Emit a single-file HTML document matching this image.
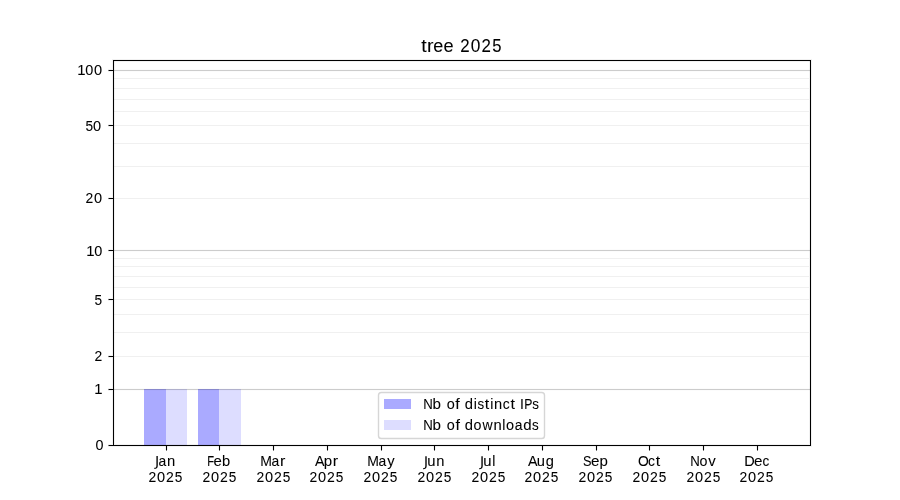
<!DOCTYPE html><html><head><meta charset="utf-8"><style>html,body{margin:0;padding:0;background:#fff;width:900px;height:500px;overflow:hidden}svg{display:block;will-change:transform}text{font-family:"Liberation Sans",sans-serif;fill:#000;stroke:#000;stroke-width:0.06px}</style></head><body>
<svg width="900" height="500" viewBox="0 0 900 500">
<rect x="0" y="0" width="900" height="500" fill="#fff"/>
<g shape-rendering="crispEdges">
<rect x="144" y="389" width="22" height="56" fill="#aaaaff"/>
<rect x="166" y="389" width="21" height="56" fill="#ddddff"/>
<rect x="198" y="389" width="21" height="56" fill="#aaaaff"/>
<rect x="219" y="389" width="22" height="56" fill="#ddddff"/>
<rect x="114" y="78" width="695" height="1" fill="#000" fill-opacity="0.058"/>
<rect x="114" y="88" width="695" height="1" fill="#000" fill-opacity="0.058"/>
<rect x="114" y="99" width="695" height="1" fill="#000" fill-opacity="0.058"/>
<rect x="114" y="111" width="695" height="1" fill="#000" fill-opacity="0.058"/>
<rect x="114" y="125" width="695" height="1" fill="#000" fill-opacity="0.058"/>
<rect x="114" y="143" width="695" height="1" fill="#000" fill-opacity="0.058"/>
<rect x="114" y="166" width="695" height="1" fill="#000" fill-opacity="0.058"/>
<rect x="114" y="198" width="695" height="1" fill="#000" fill-opacity="0.058"/>
<rect x="114" y="258" width="695" height="1" fill="#000" fill-opacity="0.058"/>
<rect x="114" y="266" width="695" height="1" fill="#000" fill-opacity="0.058"/>
<rect x="114" y="276" width="695" height="1" fill="#000" fill-opacity="0.058"/>
<rect x="114" y="287" width="695" height="1" fill="#000" fill-opacity="0.058"/>
<rect x="114" y="299" width="695" height="1" fill="#000" fill-opacity="0.058"/>
<rect x="114" y="314" width="695" height="1" fill="#000" fill-opacity="0.058"/>
<rect x="114" y="332" width="695" height="1" fill="#000" fill-opacity="0.058"/>
<rect x="114" y="356" width="695" height="1" fill="#000" fill-opacity="0.058"/>
<rect x="113" y="70" width="697" height="1" fill="#000" fill-opacity="0.2"/>
<rect x="113" y="69" width="697" height="1" fill="#000" fill-opacity="0.012"/>
<rect x="113" y="71" width="697" height="1" fill="#000" fill-opacity="0.012"/>
<rect x="113" y="250" width="697" height="1" fill="#000" fill-opacity="0.2"/>
<rect x="113" y="249" width="697" height="1" fill="#000" fill-opacity="0.012"/>
<rect x="113" y="251" width="697" height="1" fill="#000" fill-opacity="0.012"/>
<rect x="113" y="389" width="697" height="1" fill="#000" fill-opacity="0.2"/>
<rect x="113" y="388" width="697" height="1" fill="#000" fill-opacity="0.012"/>
<rect x="113" y="390" width="697" height="1" fill="#000" fill-opacity="0.012"/>
<rect x="112" y="59" width="700" height="1" fill="#000" fill-opacity="0.055"/>
<rect x="112" y="446" width="700" height="1" fill="#000" fill-opacity="0.055"/>
<rect x="112" y="60" width="1" height="386" fill="#000" fill-opacity="0.055"/>
<rect x="811" y="60" width="1" height="386" fill="#000" fill-opacity="0.055"/>
<rect x="114" y="61" width="696" height="1" fill="#000" fill-opacity="0.055"/>
<rect x="114" y="444" width="696" height="1" fill="#000" fill-opacity="0.055"/>
<rect x="114" y="61" width="1" height="383" fill="#000" fill-opacity="0.055"/>
<rect x="809" y="61" width="1" height="383" fill="#000" fill-opacity="0.055"/>
<rect x="113" y="60" width="698" height="1" fill="#000"/>
<rect x="113" y="445" width="698" height="1" fill="#000"/>
<rect x="113" y="60" width="1" height="386" fill="#000"/>
<rect x="810" y="60" width="1" height="386" fill="#000"/>
<rect x="109" y="445" width="4" height="1" fill="#000"/>
<rect x="108" y="445" width="1" height="1" fill="#000" fill-opacity="0.5"/>
<rect x="108" y="444" width="4" height="1" fill="#000" fill-opacity="0.055"/>
<rect x="108" y="446" width="4" height="1" fill="#000" fill-opacity="0.055"/>
<rect x="109" y="389" width="4" height="1" fill="#000"/>
<rect x="108" y="389" width="1" height="1" fill="#000" fill-opacity="0.5"/>
<rect x="108" y="388" width="4" height="1" fill="#000" fill-opacity="0.055"/>
<rect x="108" y="390" width="4" height="1" fill="#000" fill-opacity="0.055"/>
<rect x="109" y="356" width="4" height="1" fill="#000"/>
<rect x="108" y="356" width="1" height="1" fill="#000" fill-opacity="0.5"/>
<rect x="108" y="355" width="4" height="1" fill="#000" fill-opacity="0.055"/>
<rect x="108" y="357" width="4" height="1" fill="#000" fill-opacity="0.055"/>
<rect x="109" y="299" width="4" height="1" fill="#000"/>
<rect x="108" y="299" width="1" height="1" fill="#000" fill-opacity="0.5"/>
<rect x="108" y="298" width="4" height="1" fill="#000" fill-opacity="0.055"/>
<rect x="108" y="300" width="4" height="1" fill="#000" fill-opacity="0.055"/>
<rect x="109" y="250" width="4" height="1" fill="#000"/>
<rect x="108" y="250" width="1" height="1" fill="#000" fill-opacity="0.5"/>
<rect x="108" y="249" width="4" height="1" fill="#000" fill-opacity="0.055"/>
<rect x="108" y="251" width="4" height="1" fill="#000" fill-opacity="0.055"/>
<rect x="109" y="198" width="4" height="1" fill="#000"/>
<rect x="108" y="198" width="1" height="1" fill="#000" fill-opacity="0.5"/>
<rect x="108" y="197" width="4" height="1" fill="#000" fill-opacity="0.055"/>
<rect x="108" y="199" width="4" height="1" fill="#000" fill-opacity="0.055"/>
<rect x="109" y="125" width="4" height="1" fill="#000"/>
<rect x="108" y="125" width="1" height="1" fill="#000" fill-opacity="0.5"/>
<rect x="108" y="124" width="4" height="1" fill="#000" fill-opacity="0.055"/>
<rect x="108" y="126" width="4" height="1" fill="#000" fill-opacity="0.055"/>
<rect x="109" y="70" width="4" height="1" fill="#000"/>
<rect x="108" y="70" width="1" height="1" fill="#000" fill-opacity="0.5"/>
<rect x="108" y="69" width="4" height="1" fill="#000" fill-opacity="0.055"/>
<rect x="108" y="71" width="4" height="1" fill="#000" fill-opacity="0.055"/>
<rect x="166" y="446" width="1" height="4" fill="#000"/>
<rect x="166" y="450" width="1" height="1" fill="#000" fill-opacity="0.5"/>
<rect x="165" y="446" width="1" height="4" fill="#000" fill-opacity="0.055"/>
<rect x="167" y="446" width="1" height="4" fill="#000" fill-opacity="0.055"/>
<rect x="219" y="446" width="1" height="4" fill="#000"/>
<rect x="219" y="450" width="1" height="1" fill="#000" fill-opacity="0.5"/>
<rect x="218" y="446" width="1" height="4" fill="#000" fill-opacity="0.055"/>
<rect x="220" y="446" width="1" height="4" fill="#000" fill-opacity="0.055"/>
<rect x="273" y="446" width="1" height="4" fill="#000"/>
<rect x="273" y="450" width="1" height="1" fill="#000" fill-opacity="0.5"/>
<rect x="272" y="446" width="1" height="4" fill="#000" fill-opacity="0.055"/>
<rect x="274" y="446" width="1" height="4" fill="#000" fill-opacity="0.055"/>
<rect x="327" y="446" width="1" height="4" fill="#000"/>
<rect x="327" y="450" width="1" height="1" fill="#000" fill-opacity="0.5"/>
<rect x="326" y="446" width="1" height="4" fill="#000" fill-opacity="0.055"/>
<rect x="328" y="446" width="1" height="4" fill="#000" fill-opacity="0.055"/>
<rect x="381" y="446" width="1" height="4" fill="#000"/>
<rect x="381" y="450" width="1" height="1" fill="#000" fill-opacity="0.5"/>
<rect x="380" y="446" width="1" height="4" fill="#000" fill-opacity="0.055"/>
<rect x="382" y="446" width="1" height="4" fill="#000" fill-opacity="0.055"/>
<rect x="434" y="446" width="1" height="4" fill="#000"/>
<rect x="434" y="450" width="1" height="1" fill="#000" fill-opacity="0.5"/>
<rect x="433" y="446" width="1" height="4" fill="#000" fill-opacity="0.055"/>
<rect x="435" y="446" width="1" height="4" fill="#000" fill-opacity="0.055"/>
<rect x="488" y="446" width="1" height="4" fill="#000"/>
<rect x="488" y="450" width="1" height="1" fill="#000" fill-opacity="0.5"/>
<rect x="487" y="446" width="1" height="4" fill="#000" fill-opacity="0.055"/>
<rect x="489" y="446" width="1" height="4" fill="#000" fill-opacity="0.055"/>
<rect x="542" y="446" width="1" height="4" fill="#000"/>
<rect x="542" y="450" width="1" height="1" fill="#000" fill-opacity="0.5"/>
<rect x="541" y="446" width="1" height="4" fill="#000" fill-opacity="0.055"/>
<rect x="543" y="446" width="1" height="4" fill="#000" fill-opacity="0.055"/>
<rect x="596" y="446" width="1" height="4" fill="#000"/>
<rect x="596" y="450" width="1" height="1" fill="#000" fill-opacity="0.5"/>
<rect x="595" y="446" width="1" height="4" fill="#000" fill-opacity="0.055"/>
<rect x="597" y="446" width="1" height="4" fill="#000" fill-opacity="0.055"/>
<rect x="649" y="446" width="1" height="4" fill="#000"/>
<rect x="649" y="450" width="1" height="1" fill="#000" fill-opacity="0.5"/>
<rect x="648" y="446" width="1" height="4" fill="#000" fill-opacity="0.055"/>
<rect x="650" y="446" width="1" height="4" fill="#000" fill-opacity="0.055"/>
<rect x="703" y="446" width="1" height="4" fill="#000"/>
<rect x="703" y="450" width="1" height="1" fill="#000" fill-opacity="0.5"/>
<rect x="702" y="446" width="1" height="4" fill="#000" fill-opacity="0.055"/>
<rect x="704" y="446" width="1" height="4" fill="#000" fill-opacity="0.055"/>
<rect x="757" y="446" width="1" height="4" fill="#000"/>
<rect x="757" y="450" width="1" height="1" fill="#000" fill-opacity="0.5"/>
<rect x="756" y="446" width="1" height="4" fill="#000" fill-opacity="0.055"/>
<rect x="758" y="446" width="1" height="4" fill="#000" fill-opacity="0.055"/>
</g>
<rect x="378.5" y="392.5" width="166" height="46" rx="2.8" ry="2.8" fill="#fff" stroke="#d6d6d6" stroke-width="1.4"/>
<g shape-rendering="crispEdges">
<rect x="384" y="399" width="27" height="10" fill="#aaaaff"/>
<rect x="384" y="420" width="27" height="10" fill="#ddddff"/>
</g>
<text transform="translate(421.323,51.500) scale(1.1500,1.0800)" font-size="17">t</text>
<text transform="translate(426.930,51.500) scale(1.1500,1.0800)" font-size="17">r</text>
<text transform="translate(433.232,51.500) scale(1.0603,1.0800)" font-size="17">e</text>
<text transform="translate(443.448,51.500) scale(1.0684,1.0800)" font-size="17">e</text>
<text transform="translate(460.297,51.500) scale(0.9911,1.0800)" font-size="17">2</text>
<text transform="translate(470.865,51.500) scale(1.0165,1.0800)" font-size="17">0</text>
<text transform="translate(481.408,51.500) scale(0.9936,1.0800)" font-size="17">2</text>
<text transform="translate(492.255,51.500) scale(0.9787,1.0800)" font-size="17">5</text>
<text transform="translate(95.390,449.500) scale(1.0262,1.0000)" font-size="14">0</text>
<text transform="translate(94.309,393.500) scale(1.0631,1.0000)" font-size="14">1</text>
<text transform="translate(94.460,360.500) scale(0.9925,1.0000)" font-size="14">2</text>
<text transform="translate(94.554,304.500) scale(0.9763,1.0000)" font-size="14">5</text>
<text transform="translate(86.309,255.500) scale(1.0631,1.0000)" font-size="14">1</text>
<text transform="translate(94.234,255.500) scale(1.0333,1.0000)" font-size="14">0</text>
<text transform="translate(85.461,202.500) scale(0.9925,1.0000)" font-size="14">2</text>
<text transform="translate(94.079,202.500) scale(1.0399,1.0000)" font-size="14">0</text>
<text transform="translate(85.554,130.500) scale(0.9763,1.0000)" font-size="14">5</text>
<text transform="translate(93.078,130.500) scale(1.0399,1.0000)" font-size="14">0</text>
<text transform="translate(77.307,74.500) scale(1.0631,1.0000)" font-size="14">1</text>
<text transform="translate(85.232,74.500) scale(1.0333,1.0000)" font-size="14">0</text>
<text transform="translate(93.947,74.500) scale(1.0413,1.0000)" font-size="14">0</text>
<path fill="#000" d="M156.417 456.045L157.787 456.045L157.787 465.466Q157.787 467.297 157.092 468.124Q156.397 468.952 154.857 468.952L154.335 468.952L154.335 467.799L154.762 467.799Q155.671 467.799 156.044 467.290Q156.417 466.781 156.417 465.466Z"/>
<text transform="translate(158.427,465.500) scale(0.9952,1.0000)" font-size="14">a</text>
<text transform="translate(166.935,465.500) scale(1.0583,1.0000)" font-size="14">n</text>
<text transform="translate(148.460,481.500) scale(0.9925,1.0000)" font-size="14">2</text>
<text transform="translate(157.078,481.500) scale(1.0399,1.0000)" font-size="14">0</text>
<text transform="translate(165.916,481.500) scale(1.0015,1.0000)" font-size="14">2</text>
<text transform="translate(174.802,481.500) scale(0.9748,1.0000)" font-size="14">5</text>
<text transform="translate(207.239,465.500) scale(0.8000,1.0000)" font-size="14">F</text>
<text transform="translate(213.539,465.500) scale(1.0681,1.0000)" font-size="14">e</text>
<text transform="translate(222.115,465.500) scale(1.0499,1.0000)" font-size="14">b</text>
<text transform="translate(202.460,481.500) scale(0.9925,1.0000)" font-size="14">2</text>
<text transform="translate(211.078,481.500) scale(1.0399,1.0000)" font-size="14">0</text>
<text transform="translate(219.916,481.500) scale(1.0015,1.0000)" font-size="14">2</text>
<text transform="translate(228.802,481.500) scale(0.9748,1.0000)" font-size="14">5</text>
<text transform="translate(260.159,465.500) scale(1.0007,1.0000)" font-size="14">M</text>
<text transform="translate(271.426,465.500) scale(0.9952,1.0000)" font-size="14">a</text>
<text transform="translate(279.988,465.500) scale(1.1500,1.0000)" font-size="14">r</text>
<text transform="translate(256.460,481.500) scale(0.9925,1.0000)" font-size="14">2</text>
<text transform="translate(265.078,481.500) scale(1.0399,1.0000)" font-size="14">0</text>
<text transform="translate(273.916,481.500) scale(1.0015,1.0000)" font-size="14">2</text>
<text transform="translate(282.802,481.500) scale(0.9748,1.0000)" font-size="14">5</text>
<text transform="translate(314.971,465.500) scale(1.0186,1.0000)" font-size="14">A</text>
<text transform="translate(323.751,465.500) scale(1.0749,1.0000)" font-size="14">p</text>
<text transform="translate(332.669,465.500) scale(1.1500,1.0000)" font-size="14">r</text>
<text transform="translate(309.460,481.500) scale(0.9925,1.0000)" font-size="14">2</text>
<text transform="translate(318.078,481.500) scale(1.0399,1.0000)" font-size="14">0</text>
<text transform="translate(326.916,481.500) scale(1.0015,1.0000)" font-size="14">2</text>
<text transform="translate(335.802,481.500) scale(0.9748,1.0000)" font-size="14">5</text>
<text transform="translate(367.158,465.500) scale(1.0007,1.0000)" font-size="14">M</text>
<text transform="translate(378.425,465.500) scale(0.9952,1.0000)" font-size="14">a</text>
<text transform="translate(387.134,465.500) scale(1.0509,1.0000)" font-size="14">y</text>
<text transform="translate(363.460,481.500) scale(0.9925,1.0000)" font-size="14">2</text>
<text transform="translate(372.078,481.500) scale(1.0399,1.0000)" font-size="14">0</text>
<text transform="translate(380.916,481.500) scale(1.0015,1.0000)" font-size="14">2</text>
<text transform="translate(389.802,481.500) scale(0.9748,1.0000)" font-size="14">5</text>
<path fill="#000" d="M425.314 456.240L426.684 456.240L426.684 465.661Q426.684 467.492 425.989 468.319Q425.294 469.147 423.754 469.147L423.232 469.147L423.232 467.994L423.659 467.994Q424.568 467.994 424.941 467.485Q425.314 466.976 425.314 465.661Z"/>
<text transform="translate(427.290,465.500) scale(1.0599,1.0000)" font-size="14">u</text>
<text transform="translate(436.136,465.500) scale(1.0478,1.0000)" font-size="14">n</text>
<text transform="translate(417.460,481.500) scale(0.9925,1.0000)" font-size="14">2</text>
<text transform="translate(426.078,481.500) scale(1.0399,1.0000)" font-size="14">0</text>
<text transform="translate(434.916,481.500) scale(1.0015,1.0000)" font-size="14">2</text>
<text transform="translate(443.802,481.500) scale(0.9748,1.0000)" font-size="14">5</text>
<path fill="#000" d="M481.378 456.289L482.748 456.289L482.748 465.710Q482.748 467.541 482.053 468.368Q481.358 469.196 479.818 469.196L479.296 469.196L479.296 468.043L479.723 468.043Q480.632 468.043 481.005 467.534Q481.378 467.025 481.378 465.710Z"/>
<text transform="translate(483.290,465.500) scale(1.0599,1.0000)" font-size="14">u</text>
<text transform="translate(492.184,465.500) scale(1.0000,1.0000)" font-size="14">l</text>
<text transform="translate(471.460,481.500) scale(0.9925,1.0000)" font-size="14">2</text>
<text transform="translate(480.078,481.500) scale(1.0399,1.0000)" font-size="14">0</text>
<text transform="translate(488.916,481.500) scale(1.0015,1.0000)" font-size="14">2</text>
<text transform="translate(497.802,481.500) scale(0.9748,1.0000)" font-size="14">5</text>
<text transform="translate(527.979,465.500) scale(1.0186,1.0000)" font-size="14">A</text>
<text transform="translate(536.739,465.500) scale(1.0504,1.0000)" font-size="14">u</text>
<text transform="translate(545.634,465.500) scale(1.0485,1.0000)" font-size="14">g</text>
<text transform="translate(524.460,481.500) scale(0.9925,1.0000)" font-size="14">2</text>
<text transform="translate(533.078,481.500) scale(1.0399,1.0000)" font-size="14">0</text>
<text transform="translate(541.916,481.500) scale(1.0015,1.0000)" font-size="14">2</text>
<text transform="translate(550.802,481.500) scale(0.9748,1.0000)" font-size="14">5</text>
<text transform="translate(582.995,465.500) scale(0.9050,1.0000)" font-size="14">S</text>
<text transform="translate(590.996,465.500) scale(1.0839,1.0000)" font-size="14">e</text>
<text transform="translate(599.508,465.500) scale(1.0738,1.0000)" font-size="14">p</text>
<text transform="translate(578.460,481.500) scale(0.9925,1.0000)" font-size="14">2</text>
<text transform="translate(587.078,481.500) scale(1.0399,1.0000)" font-size="14">0</text>
<text transform="translate(595.916,481.500) scale(1.0015,1.0000)" font-size="14">2</text>
<text transform="translate(604.802,481.500) scale(0.9748,1.0000)" font-size="14">5</text>
<text transform="translate(638.061,465.500) scale(0.9890,1.0000)" font-size="14">O</text>
<text transform="translate(648.043,465.500) scale(0.9927,1.0000)" font-size="14">c</text>
<text transform="translate(655.804,465.500) scale(1.1500,1.0000)" font-size="14">t</text>
<text transform="translate(632.460,481.500) scale(0.9925,1.0000)" font-size="14">2</text>
<text transform="translate(641.078,481.500) scale(1.0399,1.0000)" font-size="14">0</text>
<text transform="translate(649.916,481.500) scale(1.0015,1.0000)" font-size="14">2</text>
<text transform="translate(658.802,481.500) scale(0.9748,1.0000)" font-size="14">5</text>
<text transform="translate(690.327,465.500) scale(0.9456,1.0000)" font-size="14">N</text>
<text transform="translate(699.616,465.500) scale(1.0207,1.0000)" font-size="14">o</text>
<text transform="translate(708.303,465.500) scale(1.0675,1.0000)" font-size="14">v</text>
<text transform="translate(686.460,481.500) scale(0.9925,1.0000)" font-size="14">2</text>
<text transform="translate(695.078,481.500) scale(1.0399,1.0000)" font-size="14">0</text>
<text transform="translate(703.916,481.500) scale(1.0015,1.0000)" font-size="14">2</text>
<text transform="translate(712.802,481.500) scale(0.9748,1.0000)" font-size="14">5</text>
<text transform="translate(744.270,465.500) scale(1.0362,1.0000)" font-size="14">D</text>
<text transform="translate(753.987,465.500) scale(1.0839,1.0000)" font-size="14">e</text>
<text transform="translate(762.470,465.500) scale(0.9693,1.0000)" font-size="14">c</text>
<text transform="translate(739.460,481.500) scale(0.9925,1.0000)" font-size="14">2</text>
<text transform="translate(748.078,481.500) scale(1.0399,1.0000)" font-size="14">0</text>
<text transform="translate(756.916,481.500) scale(1.0015,1.0000)" font-size="14">2</text>
<text transform="translate(765.802,481.500) scale(0.9748,1.0000)" font-size="14">5</text>
<text transform="translate(423.316,408.500) scale(0.9456,1.0000)" font-size="14">N</text>
<text transform="translate(432.570,408.500) scale(1.0828,1.0000)" font-size="14">b</text>
<text transform="translate(446.819,408.500) scale(1.0328,1.0000)" font-size="14">o</text>
<text transform="translate(455.374,408.500) scale(1.1500,1.0000)" font-size="14">f</text>
<text transform="translate(464.782,408.500) scale(1.0599,1.0000)" font-size="14">d</text>
<text transform="translate(473.646,408.500) scale(1.0000,1.0000)" font-size="14">i</text>
<text transform="translate(477.375,408.500) scale(0.9518,1.0000)" font-size="14">s</text>
<text transform="translate(484.654,408.500) scale(1.1500,1.0000)" font-size="14">t</text>
<text transform="translate(490.265,408.500) scale(1.0000,1.0000)" font-size="14">i</text>
<text transform="translate(494.122,408.500) scale(1.0478,1.0000)" font-size="14">n</text>
<text transform="translate(502.640,408.500) scale(0.9921,1.0000)" font-size="14">c</text>
<text transform="translate(510.425,408.500) scale(1.1500,1.0000)" font-size="14">t</text>
<text transform="translate(520.064,408.500) scale(1.0000,1.0000)" font-size="14">I</text>
<text transform="translate(524.284,408.500) scale(0.8736,1.0000)" font-size="14">P</text>
<text transform="translate(532.242,408.500) scale(0.9544,1.0000)" font-size="14">s</text>
<text transform="translate(423.322,429.500) scale(0.9456,1.0000)" font-size="14">N</text>
<text transform="translate(432.577,429.500) scale(1.0828,1.0000)" font-size="14">b</text>
<text transform="translate(446.826,429.500) scale(1.0328,1.0000)" font-size="14">o</text>
<text transform="translate(455.381,429.500) scale(1.1500,1.0000)" font-size="14">f</text>
<text transform="translate(464.789,429.500) scale(1.0599,1.0000)" font-size="14">d</text>
<text transform="translate(473.612,429.500) scale(1.0207,1.0000)" font-size="14">o</text>
<text transform="translate(482.478,429.500) scale(1.0019,1.0000)" font-size="14">w</text>
<text transform="translate(493.508,429.500) scale(1.0573,1.0000)" font-size="14">n</text>
<text transform="translate(502.367,429.500) scale(1.0000,1.0000)" font-size="14">l</text>
<text transform="translate(506.072,429.500) scale(1.0353,1.0000)" font-size="14">o</text>
<text transform="translate(514.788,429.500) scale(0.9947,1.0000)" font-size="14">a</text>
<text transform="translate(523.277,429.500) scale(1.0742,1.0000)" font-size="14">d</text>
<text transform="translate(531.969,429.500) scale(0.9593,1.0000)" font-size="14">s</text>
</svg></body></html>
